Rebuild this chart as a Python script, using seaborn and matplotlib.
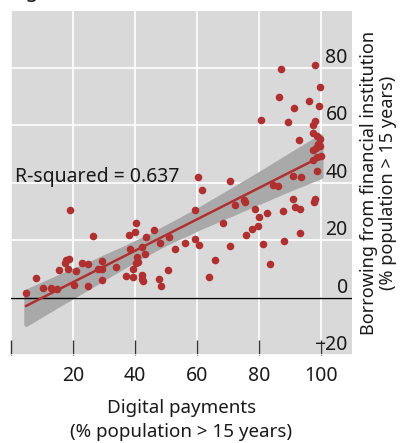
import seaborn as sns
import pandas as pd
import matplotlib.pyplot as plt

# Digital payments vs borrowing from a financial institution (% population > 15 years)
digital_payments = [
    19.1, 26.5, 38.0, 38.3, 17.7, 18.8, 17.4, 18.5, 15.6, 22.8,
    24.7, 21.1, 29.2, 28.1, 29.5, 34.0, 37.0, 29.5, 8.2, 10.3,
    12.9, 14.8, 20.4, 24.7, 4.8, 60.2, 70.7, 61.7, 59.2, 72.3,
    68.4, 40.4, 40.0, 46.2, 43.5, 51.1, 48.0, 59.2, 60.8, 56.0,
    52.8, 70.5, 42.4, 43.1, 40.6, 41.0, 40.2, 39.5, 65.7, 50.7,
    39.5, 42.1, 42.4, 42.7, 47.7, 48.5, 63.8, 97.5, 98.7, 97.3,
    98.6, 91.0, 93.7, 84.4, 86.0, 75.2, 75.6, 78.7, 82.5, 80.1,
    87.6, 90.9, 91.6, 93.2, 98.0, 97.7, 79.8, 77.7, 75.9, 93.2,
    88.2, 81.4, 83.6, 87.2, 98.2, 99.8, 86.5, 96.2, 91.4, 99.4,
    80.8, 89.2, 98.0, 97.3, 93.0, 97.5, 98.7, 99.6, 99.1, 99.8,
    98.3, 100.0,
]
borrowing = [
    30.5, 21.4, 21.7, 17.1, 13.0, 13.6, 11.9, 10.1, 9.5, 12.1,
    11.6, 9.3, 12.7, 9.9, 9.9, 10.7, 7.6, 6.0, 7.0, 3.4,
    3.5, 3.1, 4.5, 4.0, 1.7, 42.0, 40.6, 37.5, 30.5, 32.3,
    26.1, 26.1, 22.9, 23.6, 21.0, 21.0, 19.1, 20.4, 18.3, 19.1,
    17.1, 17.9, 17.5, 15.1, 14.0, 12.4, 11.9, 10.1, 13.0, 9.8,
    7.2, 7.8, 6.6, 5.8, 6.6, 4.1, 7.2, 48.0, 49.0, 51.5,
    44.2, 42.5, 42.2, 39.3, 38.9, 34.0, 33.2, 30.9, 29.6, 28.0,
    30.3, 34.3, 31.7, 30.9, 34.3, 33.4, 24.9, 24.0, 21.9, 22.6,
    19.8, 18.6, 11.6, 79.6, 81.2, 73.4, 69.9, 68.6, 66.2, 66.8,
    62.0, 61.2, 61.4, 60.2, 55.0, 57.3, 56.2, 55.2, 53.6, 52.9,
    52.1, 49.4,
]
x_ticks = [0, 20, 40, 60, 80, 100]
x_tick_labels = ["", "20", "40", "60", "80", "100"]
y_ticks = [-20, 0, 20, 40, 60, 80]
r_squared = 0.637

df = pd.DataFrame({"digital": digital_payments, "borrow": borrowing})

RED = "#b03030"
BAND = "#a9a9a9"
sns.set_theme(style="darkgrid")
plt.rcParams["font.family"] = ["Noto Sans", "DejaVu Sans"]

fig = plt.figure(figsize=(4.0, 4.43), dpi=100)
ax = fig.add_axes([0.0275, 0.1986, 0.8525, 0.7772])
ax.set_facecolor("#d9d9d9")

sns.regplot(
    data=df, x="digital", y="borrow", ax=ax, ci=99.7, n_boot=5000, seed=3,
    scatter_kws={"s": 30, "color": RED, "alpha": 1, "linewidths": 0, "zorder": 4},
    line_kws={"color": RED, "lw": 1.8, "zorder": 3},
)
# solid grey confidence band with soft corners
for coll in ax.collections:
    if coll.get_offsets().shape[0] != len(df):
        coll.set_facecolor(BAND)
        coll.set_edgecolor(BAND)
        coll.set_linewidth(3)
        coll.set_joinstyle("round")
        coll.set_alpha(1)
        coll.set_zorder(2)

ax.axhline(0, color="black", lw=1.0, zorder=2.5)

ax.set_xlim(0, 110)
ax.set_ylim(-20, 100)
ax.set_xticks(x_ticks)
ax.set_xticklabels(x_tick_labels)
ax.set_yticks(y_ticks)
ax.grid(True, color="white", lw=1.2)
for s in ax.spines.values():
    s.set_visible(False)

ax.tick_params(axis="x", direction="in", length=11, width=1, color="#333333",
               bottom=True, labelsize=14, pad=8, labelcolor="#1a1a1a")
ax.yaxis.tick_right()
ax.tick_params(axis="y", length=0, labelsize=14, pad=-3, labelcolor="#1a1a1a")
for t in ax.yaxis.get_major_ticks():
    t.label2.set_ha("right")
    t.label2.set_va("bottom")

ax.text(1.3, 42, f"R-squared = {r_squared}", fontsize=14, va="center",
        ha="left", color="#1a1a1a", zorder=5)

ax.set_xlabel("Digital payments\n(% population > 15 years)", fontsize=13.5,
              color="#1a1a1a", labelpad=9, linespacing=1.45)
ax.yaxis.set_label_position("right")
ax.set_ylabel("Borrowing from financial institution\n(% population > 15 years)",
              fontsize=13, color="#1a1a1a", labelpad=6, linespacing=1.05)

# title sits mostly above the visible area, as in the source image
fig.text(0.012, 1.006, "Digital access to credit", fontsize=15,
         va="baseline", ha="left", color="#1a1a1a")

fig.savefig("out.png", dpi=100)
